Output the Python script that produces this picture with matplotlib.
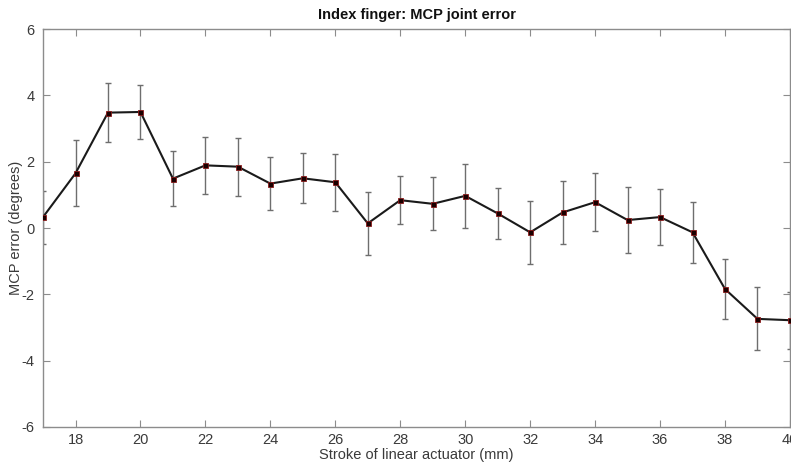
import numpy as np
import matplotlib
matplotlib.use("Agg")
import matplotlib.pyplot as plt

# stroke positions (mm) and MCP joint error (degrees)
stroke = np.arange(17, 41)
mcp_error = [0.33, 1.65, 3.48, 3.50, 1.49, 1.89, 1.85, 1.34, 1.50, 1.38,
             0.14, 0.84, 0.73, 0.97, 0.44, -0.13, 0.47, 0.78, 0.24, 0.33,
             -0.13, -1.84, -2.74, -2.78]
mcp_std = [0.80, 1.00, 0.90, 0.80, 0.83, 0.86, 0.87, 0.81, 0.76, 0.86,
           0.95, 0.73, 0.80, 0.96, 0.77, 0.94, 0.95, 0.87, 0.99, 0.85,
           0.92, 0.90, 0.95, 0.86]

plt.rcParams["font.family"] = ["Liberation Sans", "DejaVu Sans"]
plt.rcParams["axes.unicode_minus"] = False

fig = plt.figure(figsize=(7.91, 4.69), dpi=100)
ax = fig.add_axes([0.0544, 0.0896, 0.9443, 0.8484])

ax.errorbar(stroke, mcp_error, yerr=mcp_std, fmt="none", ecolor="#6e6e6e",
            elinewidth=1.0, capsize=2, capthick=1.0, zorder=2)
ax.plot(stroke, mcp_error, color="#1a1a1a", lw=1.5, marker="s", ms=3.6,
        mfc="#1a0000", mec="#8b1a1a", mew=0.6, zorder=3)

ax.set_xlim(17, 40)
ax.set_ylim(-6, 6)
ax.set_xticks(np.arange(18, 41, 2))
ax.set_yticks(np.arange(-6, 7, 2))

for s in ax.spines.values():
    s.set_color("#8c8c8c")
    s.set_linewidth(1.0)
ax.tick_params(direction="in", top=True, right=True, length=5, width=0.8,
               color="#8c8c8c", labelcolor="#3a3a3a", labelsize=10.5)
ax.tick_params(axis="x", pad=4)
ax.tick_params(axis="y", pad=6)

ax.set_title("Index finger: MCP joint error", fontsize=10.5, fontweight="bold",
             color="#111111", pad=7)
ax.set_xlabel("Stroke of linear actuator (mm)", fontsize=10.5, color="#3a3a3a", labelpad=1)
ax.set_ylabel("MCP error (degrees)", fontsize=10.5, color="#3a3a3a")
ax.yaxis.set_label_coords(-0.027, 0.5)

fig.savefig("out.png", dpi=100)
